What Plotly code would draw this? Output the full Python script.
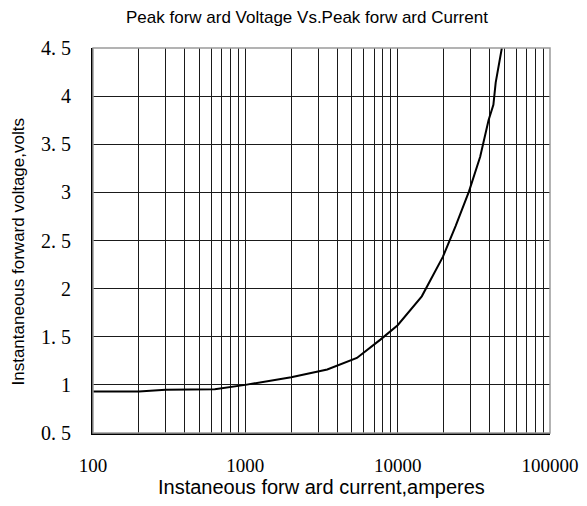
import plotly.graph_objects as go

# Curve
current_a = [100, 200, 300, 630, 1000, 2000, 3450, 5400, 7700, 10000,
             14400, 19800, 24000, 29400, 34800, 39500, 42500, 44000, 48300]
voltage_v = [0.93, 0.93, 0.95, 0.955, 1.0, 1.08, 1.16, 1.28, 1.47, 1.62,
             1.92, 2.33, 2.65, 3.01, 3.37, 3.75, 3.91, 4.14, 4.5]

y_ticks = [0.5, 1, 1.5, 2, 2.5, 3, 3.5, 4, 4.5]
y_tick_labels = ["0. 5", "1", "1. 5", "2", "2. 5", "3", "3. 5", "4", "4. 5"]
x_ticks = [100, 1000, 10000, 100000]
x_tick_labels = ["100", "1000", "10000", "100000"]
x_minor = [d * 10 ** k for k in (2, 3, 4) for d in range(2, 10)]

TEXT = "#000000"
GRID = "#1a1a1a"
SANS = "Liberation Sans"
SERIF = "Liberation Serif"

# the page body adds an 8px margin around the plot div
PAGE_PAD = 8

fig = go.Figure(
    go.Scatter(
        x=current_a,
        y=voltage_v,
        mode="lines",
        line={"color": "black", "width": 2},
        showlegend=False,
        hoverinfo="skip",
    )
)

fig.update_layout(
    width=587 - PAGE_PAD,
    height=506 - PAGE_PAD,
    margin={"l": 93 - PAGE_PAD, "r": 37, "t": 48 - PAGE_PAD, "b": 73, "autoexpand": False},
    paper_bgcolor="white",
    plot_bgcolor="white",
    font={"family": SANS, "color": TEXT},
    shapes=[
        {
            "type": "rect",
            "xref": "paper",
            "yref": "paper",
            "x0": 0,
            "x1": 1,
            "y0": 0,
            "y1": 1,
            "line": {"color": "#9a9a9a", "width": 1.5},
            "layer": "above",
        }
    ],
    annotations=[
        {
            "text": "Peak forw ard Voltage Vs.Peak forw ard Current",
            "xref": "paper",
            "yref": "paper",
            "x": 0.5,
            "y": 1,
            "xshift": -15,
            "yshift": 31,
            "xanchor": "center",
            "yanchor": "middle",
            "showarrow": False,
            "font": {"size": 17, "family": SANS, "color": TEXT},
        },
        {
            "text": "Instaneous forw ard current,amperes",
            "xref": "paper",
            "yref": "paper",
            "x": 0.5,
            "y": 0,
            "yshift": -54,
            "xanchor": "center",
            "yanchor": "middle",
            "showarrow": False,
            "font": {"size": 20, "family": SANS, "color": TEXT},
        },
        {
            "text": "Instantaneous forward voltage,volts",
            "xref": "paper",
            "yref": "paper",
            "x": 0,
            "y": 0.5,
            "xshift": -75,
            "yshift": -12,
            "textangle": -90,
            "xanchor": "center",
            "yanchor": "middle",
            "showarrow": False,
            "font": {"size": 17, "family": SANS, "color": TEXT},
        },
    ],
)

fig.update_xaxes(
    type="log",
    range=[2, 5],
    automargin=False,
    tickvals=x_ticks,
    ticktext=x_tick_labels,
    tickfont={"family": SERIF, "size": 19, "color": TEXT},
    ticks="",
    ticklabelstandoff=14,
    showgrid=True,
    gridcolor=GRID,
    gridwidth=1,
    minor={"tickvals": x_minor, "showgrid": True, "gridcolor": GRID, "gridwidth": 1, "ticks": ""},
    showline=True,
    linecolor="black",
    linewidth=2,
    zeroline=False,
)

fig.update_yaxes(
    range=[0.5, 4.5],
    automargin=False,
    tickvals=y_ticks,
    ticktext=y_tick_labels,
    tickfont={"family": SERIF, "size": 20, "color": TEXT},
    ticks="",
    ticklabelstandoff=16,
    showgrid=True,
    gridcolor=GRID,
    gridwidth=1,
    showline=True,
    linecolor="black",
    linewidth=2,
    zeroline=False,
)

fig.write_html("out.html")
